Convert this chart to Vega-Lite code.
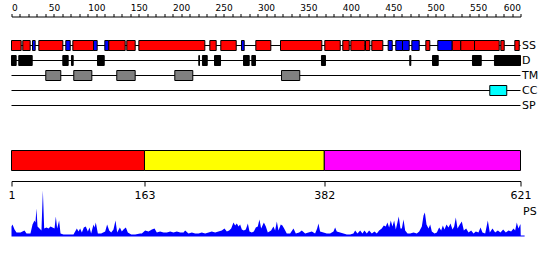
{
  "$schema": "https://vega.github.io/schema/vega-lite/v6.json",
  "padding": {"left": 7.5, "top": 3, "right": 2, "bottom": 2},
  "bounds": "flush",
  "spacing": 37.5,
  "config": {
    "view": {"stroke": null},
    "font": "DejaVu Sans",
    "axis": {"labelFont": "DejaVu Sans", "titleFont": "DejaVu Sans", "labelColor": "black", "titleColor": "black", "domainColor": "black", "tickColor": "black", "grid": false}
  },
  "resolve": {"scale": {"x": "independent", "color": "independent", "y": "independent"}},
  "datasets": {
    "tracks": [{"track": "SS"}, {"track": "D"}, {"track": "TM"}, {"track": "CC"}, {"track": "SP"}],
    "features": [
      {"track": "SS", "kind": "H", "start": 0, "end": 11.4},
      {"track": "SS", "kind": "H", "start": 13.3, "end": 22.0},
      {"track": "SS", "kind": "E", "start": 24.8, "end": 27.9},
      {"track": "SS", "kind": "H", "start": 32.2, "end": 60.5},
      {"track": "SS", "kind": "E", "start": 64.0, "end": 69.2},
      {"track": "SS", "kind": "H", "start": 72.3, "end": 96.7},
      {"track": "SS", "kind": "E", "start": 96.7, "end": 101.0},
      {"track": "SS", "kind": "E", "start": 110.0, "end": 114.7},
      {"track": "SS", "kind": "H", "start": 114.7, "end": 134.0},
      {"track": "SS", "kind": "H", "start": 135.9, "end": 145.8},
      {"track": "SS", "kind": "H", "start": 150.1, "end": 227.9},
      {"track": "SS", "kind": "H", "start": 233.8, "end": 241.3},
      {"track": "SS", "kind": "H", "start": 246.7, "end": 264.9},
      {"track": "SS", "kind": "E", "start": 271.1, "end": 274.3},
      {"track": "SS", "kind": "H", "start": 288.0, "end": 305.7},
      {"track": "SS", "kind": "H", "start": 317.1, "end": 365.8},
      {"track": "SS", "kind": "H", "start": 369.3, "end": 387.5},
      {"track": "SS", "kind": "H", "start": 390.5, "end": 398.1},
      {"track": "SS", "kind": "H", "start": 400.0, "end": 416.5},
      {"track": "SS", "kind": "H", "start": 417.3, "end": 422.4},
      {"track": "SS", "kind": "H", "start": 424.7, "end": 437.7},
      {"track": "SS", "kind": "E", "start": 444.0, "end": 448.8},
      {"track": "SS", "kind": "E", "start": 453.0, "end": 460.9},
      {"track": "SS", "kind": "E", "start": 460.9, "end": 468.8},
      {"track": "SS", "kind": "E", "start": 471.9, "end": 480.6},
      {"track": "SS", "kind": "H", "start": 488.4, "end": 493.1},
      {"track": "SS", "kind": "E", "start": 502.5, "end": 519.5},
      {"track": "SS", "kind": "H", "start": 519.5, "end": 529.6},
      {"track": "SS", "kind": "H", "start": 529.6, "end": 545.8},
      {"track": "SS", "kind": "H", "start": 545.8, "end": 574.9},
      {"track": "SS", "kind": "H", "start": 576.8, "end": 580.8},
      {"track": "SS", "kind": "H", "start": 593.3, "end": 598.5},
      {"track": "D", "kind": "D", "start": 0, "end": 5.5},
      {"track": "D", "kind": "D", "start": 8.6, "end": 24.4},
      {"track": "D", "kind": "D", "start": 60.5, "end": 66.8},
      {"track": "D", "kind": "D", "start": 70.7, "end": 72.7},
      {"track": "D", "kind": "D", "start": 101.4, "end": 109.3},
      {"track": "D", "kind": "D", "start": 220.8, "end": 221.6},
      {"track": "D", "kind": "D", "start": 225.1, "end": 230.7},
      {"track": "D", "kind": "D", "start": 239.3, "end": 246.4},
      {"track": "D", "kind": "D", "start": 273.5, "end": 280.2},
      {"track": "D", "kind": "D", "start": 283.3, "end": 287.6},
      {"track": "D", "kind": "D", "start": 365.4, "end": 370.1},
      {"track": "D", "kind": "D", "start": 469.5, "end": 470.7},
      {"track": "D", "kind": "D", "start": 496.3, "end": 503.0},
      {"track": "D", "kind": "D", "start": 543.4, "end": 553.7},
      {"track": "D", "kind": "D", "start": 569.3, "end": 600},
      {"track": "TM", "kind": "TM", "start": 40.4, "end": 58.1},
      {"track": "TM", "kind": "TM", "start": 73.4, "end": 94.7},
      {"track": "TM", "kind": "TM", "start": 124.1, "end": 145.8},
      {"track": "TM", "kind": "TM", "start": 192.5, "end": 213.7},
      {"track": "TM", "kind": "TM", "start": 318.3, "end": 339.8},
      {"track": "CC", "kind": "CC", "start": 563.8, "end": 583.8}
    ],
    "domains": [
      {"domain": "D1", "start": 1, "end": 163},
      {"domain": "D2", "start": 163, "end": 382},
      {"domain": "D3", "start": 382, "end": 621}
    ],
    "ps": [
      {"r":1,"h":10},{"r":2.2,"h":12},{"r":4.7,"h":7},{"r":7.1,"h":4},{"r":12,"h":4},{"r":16.8,"h":6},{"r":19.3,"h":3},{"r":24.1,"h":3},{"r":26.6,"h":12},{"r":29,"h":16},{"r":30.2,"h":14},{"r":31.4,"h":28},{"r":32.7,"h":10},{"r":35.1,"h":8},{"r":37.5,"h":6},{"r":39.2,"h":46},{"r":40.8,"h":8},{"r":43.6,"h":9},{"r":46.1,"h":8},{"r":48.5,"h":10},{"r":51,"h":9},{"r":53.4,"h":8},{"r":55,"h":20},{"r":56.6,"h":8},{"r":59,"h":16},{"r":60.7,"h":3},{"r":64.3,"h":2},{"r":70.4,"h":2},{"r":76.5,"h":2},{"r":80.6,"h":8},{"r":82.6,"h":5},{"r":84.6,"h":8},{"r":86.7,"h":4},{"r":89.1,"h":9},{"r":91.5,"h":10},{"r":94,"h":5},{"r":96,"h":9},{"r":98,"h":3},{"r":100.9,"h":12},{"r":102.1,"h":9},{"r":103.7,"h":14},{"r":106.2,"h":3},{"r":110.2,"h":3},{"r":115.1,"h":5},{"r":117.5,"h":12},{"r":120,"h":6},{"r":122.4,"h":4},{"r":125.2,"h":7},{"r":127.7,"h":16},{"r":129.7,"h":4},{"r":133,"h":9},{"r":135.4,"h":5},{"r":137.4,"h":7},{"r":140.3,"h":9},{"r":142.7,"h":4},{"r":146.8,"h":2},{"r":151.6,"h":2},{"r":157.7,"h":3},
      {"r":159.8,"h":3},{"r":163.8,"h":6},{"r":167.9,"h":5},{"r":172,"h":7},{"r":175.2,"h":8},{"r":178,"h":4},{"r":182,"h":5},{"r":186.2,"h":4},{"r":190.2,"h":4},{"r":194.3,"h":5},{"r":198.3,"h":4},{"r":202.4,"h":5},{"r":206.5,"h":4},{"r":210.5,"h":4},{"r":212.5,"h":6},{"r":216.6,"h":3},{"r":220.7,"h":4},{"r":224.7,"h":3},{"r":228.8,"h":3},{"r":232.8,"h":4},{"r":236.9,"h":3},{"r":241,"h":4},{"r":245,"h":5},{"r":249.1,"h":4},{"r":253.1,"h":5},{"r":257.2,"h":6},{"r":260.4,"h":8},{"r":263.3,"h":5},{"r":266.1,"h":6},{"r":268.6,"h":8},{"r":271.4,"h":14},{"r":273.4,"h":11},{"r":275.5,"h":13},{"r":277.5,"h":10},{"r":279.5,"h":12},{"r":281.6,"h":7},{"r":284,"h":6},{"r":286.4,"h":7},{"r":288.9,"h":13},{"r":290.9,"h":5},{"r":293.7,"h":4},{"r":296.2,"h":5},{"r":298.6,"h":9},{"r":301,"h":10},{"r":303,"h":17},{"r":305.1,"h":8},{"r":308.4,"h":14},{"r":310.8,"h":10},{"r":313.2,"h":4},
      {"r":317.2,"h":6},{"r":320.1,"h":10},{"r":322.1,"h":6},{"r":324.2,"h":15},{"r":326.2,"h":6},{"r":329,"h":12},{"r":331,"h":11},{"r":333.1,"h":8},{"r":336.3,"h":3},{"r":340.4,"h":3},{"r":344.5,"h":8},{"r":347.3,"h":3},{"r":351.4,"h":4},{"r":354.6,"h":6},{"r":358.7,"h":3},{"r":362.7,"h":4},{"r":366.8,"h":5},{"r":370.8,"h":3},{"r":373.3,"h":8},{"r":374.9,"h":13},{"r":376.9,"h":5},{"r":381,"h":4},{"r":385,"h":3},{"r":389.1,"h":3},{"r":393.2,"h":5},{"r":395.2,"h":9},{"r":397.2,"h":5},{"r":401.3,"h":4},{"r":405.4,"h":3},{"r":409.4,"h":2},{"r":413.5,"h":2},{"r":417.5,"h":3},{"r":419.6,"h":6},{"r":422.4,"h":3},{"r":425.7,"h":6},{"r":428.5,"h":3},{"r":430.9,"h":6},{"r":433.8,"h":3},{"r":436.6,"h":6},{"r":439.9,"h":3},{"r":443.1,"h":5},{"r":446,"h":3},{"r":448.8,"h":6},{"r":452,"h":8},{"r":454.5,"h":11},{"r":456.9,"h":10},{"r":458.9,"h":14},{"r":461,"h":9},{"r":463,"h":16},{"r":465,"h":10},{"r":467.1,"h":16},{"r":469.1,"h":7},{"r":471.1,"h":14},{"r":472.7,"h":20},{"r":474.8,"h":8},
      {"r":476.5,"h":8},{"r":478.5,"h":17},{"r":480.5,"h":6},{"r":483.4,"h":3},{"r":486.6,"h":3},{"r":490.7,"h":4},{"r":494.7,"h":3},{"r":497.6,"h":5},{"r":500.8,"h":10},{"r":502.9,"h":21},{"r":504.5,"h":24},{"r":506.5,"h":12},{"r":509,"h":8},{"r":511,"h":12},{"r":513,"h":5},{"r":516.3,"h":3},{"r":519.1,"h":4},{"r":521.9,"h":9},{"r":524.4,"h":6},{"r":526.4,"h":11},{"r":528.4,"h":7},{"r":530.9,"h":12},{"r":533.3,"h":9},{"r":535.7,"h":13},{"r":538.2,"h":7},{"r":540.2,"h":10},{"r":542.2,"h":19},{"r":544.3,"h":8},{"r":547.1,"h":12},{"r":549.5,"h":15},{"r":552,"h":6},{"r":554.8,"h":8},{"r":557.7,"h":4},{"r":560.9,"h":6},{"r":563.8,"h":3},{"r":566.6,"h":5},{"r":569.8,"h":4},{"r":572.3,"h":9},{"r":574.7,"h":4},{"r":578,"h":3},{"r":581.2,"h":16},{"r":583.6,"h":4},{"r":586.9,"h":8},{"r":590.1,"h":4},{"r":593.4,"h":6},{"r":596.6,"h":4},{"r":599.9,"h":7},{"r":603.1,"h":4},{"r":606.4,"h":6},{"r":609.6,"h":5},{"r":612.5,"h":8},{"r":614.5,"h":6},{"r":616.5,"h":14},{"r":618.5,"h":8},{"r":620.6,"h":12},{"r":621,"h":12},{"r":621.3,"h":1},{"r":626,"h":1}
    ]
  },
  "vconcat": [
    {
      "width": 509,
      "height": 75,
      "layer": [
        {
          "data": {"name": "tracks"},
          "mark": {"type": "rule", "color": "black", "strokeWidth": 1},
          "encoding": {
            "y": {"field": "track", "type": "nominal",
                  "scale": {"type": "band", "domain": ["SS", "D", "TM", "CC", "SP"], "paddingInner": 0, "paddingOuter": 0},
                  "axis": {"orient": "right", "title": null, "ticks": false, "domain": false, "labelPadding": 1, "labelFontSize": 11}}
          }
        },
        {
          "data": {"name": "features"},
          "mark": {"type": "bar", "height": 10, "stroke": "black", "strokeWidth": 1},
          "encoding": {
            "x": {"field": "start", "type": "quantitative",
                  "scale": {"domain": [0, 600], "nice": false, "zero": false},
                  "axis": {"orient": "top", "offset": 21.5, "title": null,
                           "values": [0,10,20,30,40,50,60,70,80,90,100,110,120,130,140,150,160,170,180,190,200,210,220,230,240,250,260,270,280,290,300,310,320,330,340,350,360,370,380,390,400,410,420,430,440,450,460,470,480,490,500,510,520,530,540,550,560,570,580,590,600],
                           "labelExpr": "datum.value % 50 === 0 ? datum.label : ''",
                           "tickSize": 3, "labelFontSize": 9, "labelPadding": 1, "labelOverlap": false}},
            "x2": {"field": "end"},
            "y": {"field": "track", "type": "nominal",
                  "scale": {"type": "band", "domain": ["SS", "D", "TM", "CC", "SP"], "paddingInner": 0, "paddingOuter": 0},
                  "axis": {"orient": "right", "title": null, "ticks": false, "domain": false, "labelPadding": 1, "labelFontSize": 11}},
            "color": {"field": "kind", "type": "nominal",
                      "scale": {"domain": ["H", "E", "D", "TM", "CC"], "range": ["#ff0000", "#0000ff", "#000000", "#808080", "#00ffff"]},
                      "legend": null}
          }
        }
      ]
    },
    {
      "width": 509,
      "height": 86,
      "layer": [
        {
          "data": {"name": "domains"},
          "mark": {"type": "bar", "stroke": "black", "strokeWidth": 1},
          "encoding": {
            "x": {"field": "start", "type": "quantitative",
                  "scale": {"domain": [1, 621], "nice": false, "zero": false},
                  "axis": {"orient": "bottom", "offset": -55.5, "values": [1, 163, 382, 621], "title": null, "tickSize": 5, "labelFontSize": 11, "labelPadding": 3, "labelFlush": false, "labelOverlap": false}},
            "x2": {"field": "end"},
            "y": {"datum": 66, "type": "quantitative",
                  "scale": {"domain": [0, 86], "nice": false, "zero": true},
                  "axis": {"orient": "right", "labels": false, "ticks": false, "domain": false, "title": "PS", "titleAngle": 0, "titleAlign": "left", "titleBaseline": "middle", "titleX": 2, "titleY": 61, "titleFontSize": 11, "titleFontWeight": "normal", "titlePadding": 0}},
            "y2": {"datum": 86},
            "color": {"field": "domain", "type": "nominal",
                      "scale": {"domain": ["D1", "D2", "D3"], "range": ["#ff0000", "#ffff00", "#ff00ff"]},
                      "legend": null}
          }
        },
        {
          "data": {"name": "ps"},
          "mark": {"type": "area", "color": "#0000ff", "interpolate": "linear", "opacity": 1},
          "encoding": {
            "x": {"field": "r", "type": "quantitative",
                  "scale": {"domain": [1, 621], "nice": false, "zero": false},
                  "axis": {"orient": "bottom", "offset": -55.5, "values": [1, 163, 382, 621], "title": null, "tickSize": 5, "labelFontSize": 11, "labelPadding": 3, "labelFlush": false, "labelOverlap": false}},
            "y": {"field": "h", "type": "quantitative",
                  "scale": {"domain": [0, 86], "nice": false, "zero": true},
                  "axis": {"orient": "right", "labels": false, "ticks": false, "domain": false, "title": "PS", "titleAngle": 0, "titleAlign": "left", "titleBaseline": "middle", "titleX": 2, "titleY": 61, "titleFontSize": 11, "titleFontWeight": "normal", "titlePadding": 0}}
          }
        }
      ]
    }
  ]
}
